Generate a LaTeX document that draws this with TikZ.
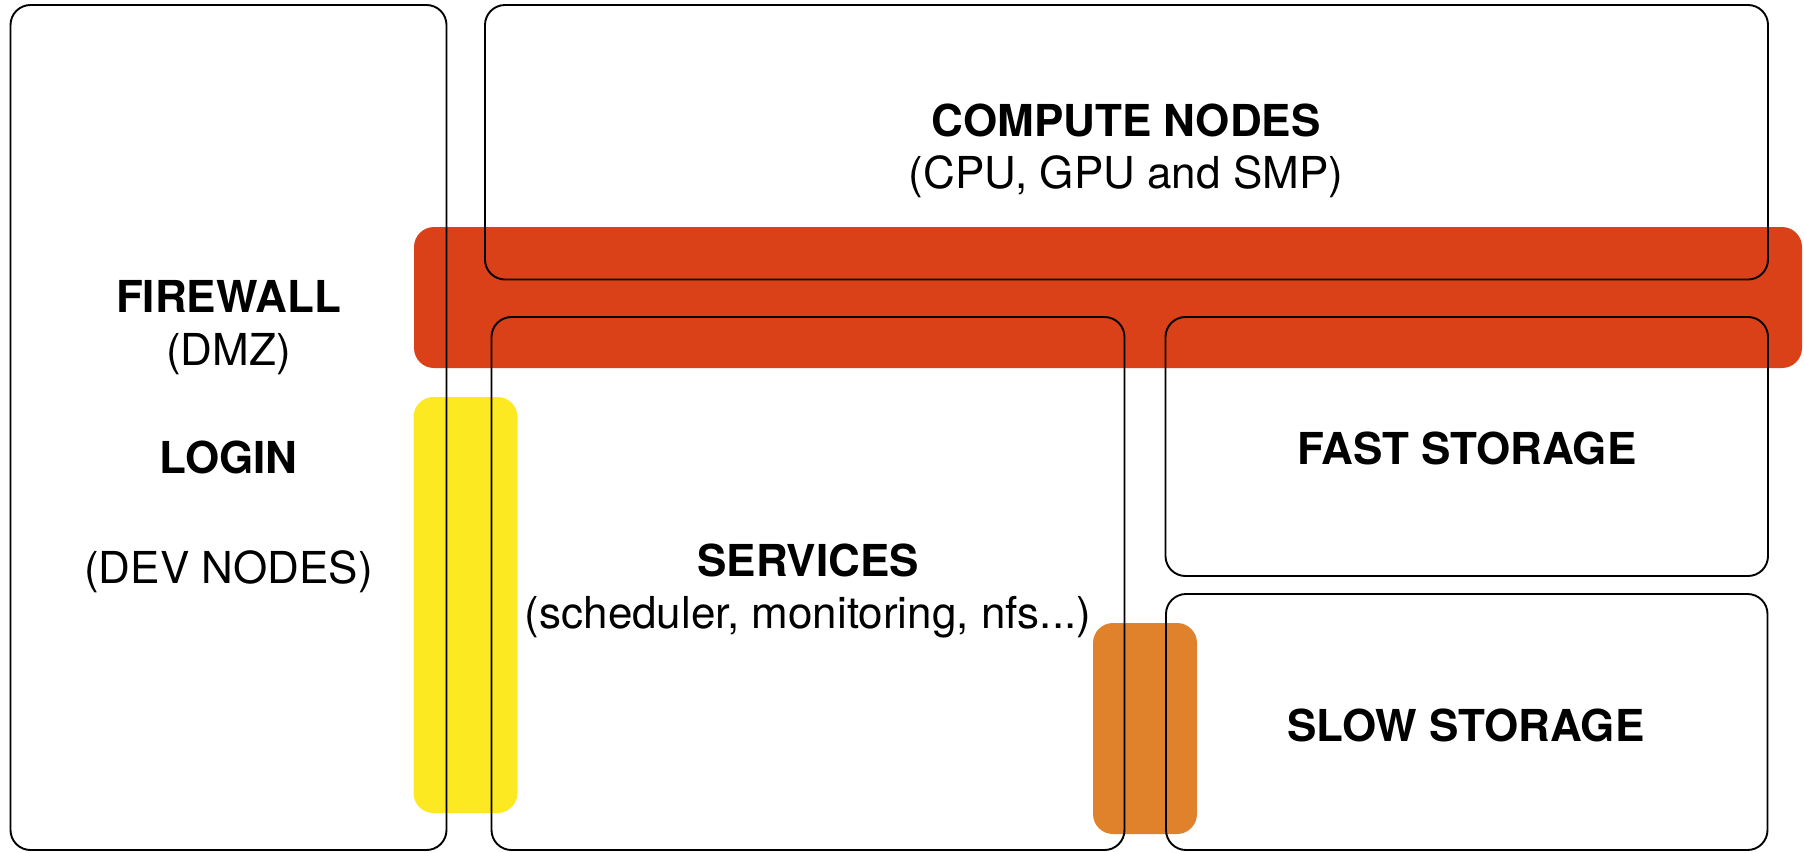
\documentclass[tikz,border=0pt]{standalone}
\usepackage{fontspec}
\setmainfont{TeX Gyre Heros}
\definecolor{fwred}{HTML}{DB4119}
\definecolor{loginyellow}{HTML}{FCE922}
\definecolor{storeorange}{HTML}{E0812B}
\tikzset{
  zone/.style={draw=black, line width=1.9pt, rounded corners=20pt, rectangle,
    inner sep=0pt, outer sep=0pt, anchor=north west},
  band/.style={rounded corners=20pt, draw=none},
  title/.style={font=\fontsize{44}{50}\selectfont\bfseries, inner sep=0pt, anchor=base},
  sub/.style={font=\fontsize{44}{50}\selectfont, inner sep=0pt, anchor=base},
}
\begin{document}
\begin{tikzpicture}[x=1pt, y=-1pt]
\useasboundingbox (0,0) rectangle (1804,852);

% coloured links underneath the outlines
\fill[band, fwred] (414,227) rectangle (1802,368);
\fill[band, loginyellow] (413.5,397) rectangle (517.5,813);
\fill[band, storeorange] (1093,623) rectangle (1197,834);

% system zones
\node[zone, minimum width=436pt, minimum height=845pt] (login) at (10.5,5) {};
\node[zone, minimum width=1283pt, minimum height=274.5pt] (compute) at (485,5) {};
\node[zone, minimum width=633pt, minimum height=533pt] (services) at (491.5,317) {};
\node[zone, minimum width=602.5pt, minimum height=259pt] (fast) at (1165.5,317) {};
\node[zone, minimum width=601.5pt, minimum height=256pt] (slow) at (1166,594) {};

% labels
\node[title] (computeT) at (1126,136) {COMPUTE NODES};
\node[sub] (computeS) at (1126,188.5) {(CPU, GPU and SMP)};
\node[title] (fwT) at (228.5,312) {FIREWALL};
\node[sub] (fwS) at (228.5,365) {(DMZ)};
\node[title] (loginT) at (228.5,473) {LOGIN};
\node[sub] (loginS) at (228.5,583) {(DEV NODES)};
\node[title] (servT) at (808,576) {SERVICES};
\node[sub] (servS) at (808,628) {(scheduler, monitoring, nfs...)};
\node[title] (fastT) at (1467,464.5) {FAST STORAGE};
\node[title] (slowT) at (1466,741) {SLOW STORAGE};
\end{tikzpicture}
\end{document}
